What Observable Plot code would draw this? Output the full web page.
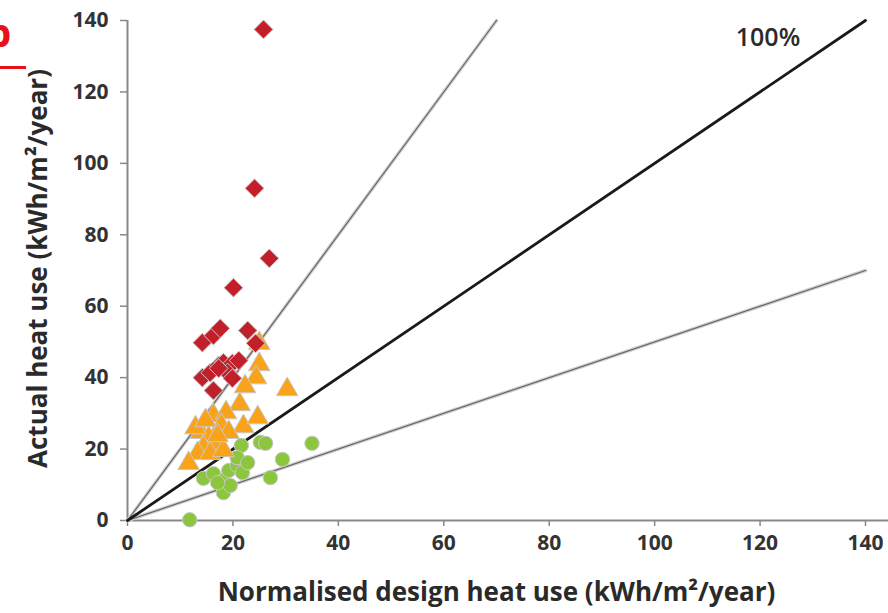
<!DOCTYPE html>
<html>
<head>
<meta charset="utf-8">
<script src="https://cdn.jsdelivr.net/npm/d3@7"></script>
<script src="https://cdn.jsdelivr.net/npm/@observablehq/plot@0.6"></script>
<style>
  html, body { margin: 0; padding: 0; background: #fff; }
  #wrap { position: relative; width: 888px; height: 613px; overflow: hidden; }
  #frag { position: absolute; left: -14px; top: 12px; color: #e8101a; font: bold 40px "Open Sans", sans-serif; line-height: 40px; }
  #fragline { position: absolute; left: 0; top: 66px; width: 26px; height: 3px; background: #e8101a; }
</style>
</head>
<body>
<div id="wrap"><div id="chart"></div><div id="frag">p</div><div id="fragline"></div></div>
<script>
// Tick values
const ticks = [0, 20, 40, 60, 80, 100, 120, 140];
const xTitle = "Normalised design heat use (kWh/m²/year)";
const yTitle = "Actual heat use (kWh/m²/year)";
const lineLabel = "100%";

// Red diamonds
const redX = [25.8, 24.1, 26.9, 20.1, 22.8, 14.2, 16.3, 17.6, 24.3, 14.2, 15.7, 17.3, 18.2, 19.9, 21.1, 19.0, 19.9, 16.3, 17.3];
const redY = [137.5, 93.0, 73.4, 65.2, 53.2, 49.8, 51.8, 53.8, 49.6, 40.0, 41.4, 43.4, 44.2, 44.0, 44.8, 41.4, 39.8, 36.4, 42.6];

// Orange triangles
const orangeX = [25.0, 25.0, 24.4, 22.3, 30.3, 21.3, 16.3, 18.7, 22.0, 24.7, 17.8, 19.2, 13.9, 15.4, 16.7, 14.4, 13.3, 15.7, 11.6, 18.2, 12.9, 17.1, 14.8];
const orangeY = [49.6, 43.7, 40.0, 37.5, 36.7, 32.5, 29.4, 30.2, 26.3, 28.8, 26.6, 24.7, 24.7, 23.2, 21.6, 20.4, 18.8, 18.8, 16.0, 19.6, 26.0, 23.8, 28.0];

// Green circles
const greenX = [11.8, 21.6, 25.2, 26.2, 29.4, 35.0, 27.1, 18.2, 14.4, 16.3, 18.2, 19.2, 20.8, 21.8, 20.8, 19.5, 17.1, 22.8];
const greenY = [0.2, 21.0, 21.9, 21.6, 17.1, 21.6, 12.0, 7.8, 11.8, 13.1, 11.2, 14.0, 15.4, 13.4, 17.6, 9.8, 10.6, 16.2];

// Reference lines: 200%, 100%, 50%
const line200 = [[0, 0], [70, 140]];
const line100 = [[0, 0], [140, 140]];
const line50 = [[0, 0], [140, 70]];

const red = redX.map((x, i) => ({x, y: redY[i]}));
const orange = orangeX.map((x, i) => ({x, y: orangeY[i]}));
const green = greenX.map((x, i) => ({x, y: greenY[i]}));

const font = "Open Sans";
const chart = Plot.plot({
  width: 888,
  height: 613,
  marginLeft: 127,
  marginRight: 23,
  marginTop: 20,
  marginBottom: 93,
  style: {fontFamily: font, background: "#fff"},
  x: {domain: [0, 140]},
  y: {domain: [0, 140]},
  marks: [
    Plot.axisX({ticks, tickFormat: d => d, tickSize: 6, tickPadding: 9, stroke: "#888", strokeWidth: 1.5, fill: "#333", fontSize: 21, fontWeight: "bold", label: null}),
    Plot.axisY({ticks, tickFormat: d => d, tickSize: 7, tickPadding: 12, stroke: "#888", strokeWidth: 1.5, fill: "#333", fontSize: 21, fontWeight: "bold", label: null}),
    Plot.ruleX([0], {y1: 0, y2: 140, stroke: "#888", strokeWidth: 2}),
    Plot.ruleY([0], {x1: 0, x2: 145, stroke: "#888", strokeWidth: 2, clip: false}),
    Plot.line(line200, {x: d => d[0], y: d => d[1], stroke: "#cfcfcf", strokeWidth: 3.5}),
    Plot.line(line200, {x: d => d[0], y: d => d[1], stroke: "#666", strokeWidth: 1.2}),
    Plot.line(line50, {x: d => d[0], y: d => d[1], stroke: "#cfcfcf", strokeWidth: 3.5}),
    Plot.line(line50, {x: d => d[0], y: d => d[1], stroke: "#666", strokeWidth: 1.2}),
    Plot.line(line100, {x: d => d[0], y: d => d[1], stroke: "#1a1a1a", strokeWidth: 2.8}),
    Plot.dot(green, {x: "x", y: "y", symbol: "circle", r: 7.2, fill: "#8cc63f", stroke: "#c8c8c8", strokeWidth: 1}),
    Plot.dot(orange, {x: "x", y: "y", symbol: "triangle", r: 8, fill: "#f9a31a", stroke: "#c8c8c8", strokeWidth: 1}),
    Plot.dot(red, {x: "x", y: "y", symbol: "diamond2", r: 8.5, fill: "#c1202a", stroke: "#c8c8c8", strokeWidth: 1}),
    Plot.text([lineLabel], {x: 121.5, y: 135, text: d => d, fontSize: 25, fontWeight: 600, fill: "#2a2a2a"}),
    Plot.text([xTitle], {frameAnchor: "bottom", dy: 80, text: d => d, fontSize: 26, fontWeight: "bold", fill: "#2a2a2a"}),
    Plot.text([yTitle], {frameAnchor: "left", textAnchor: "middle", dx: -89, dy: -2, rotate: -90, text: d => d, fontSize: 26, fontWeight: "bold", fill: "#2a2a2a"})
  ]
});
document.getElementById("chart").appendChild(chart);
</script>
</body>
</html>
